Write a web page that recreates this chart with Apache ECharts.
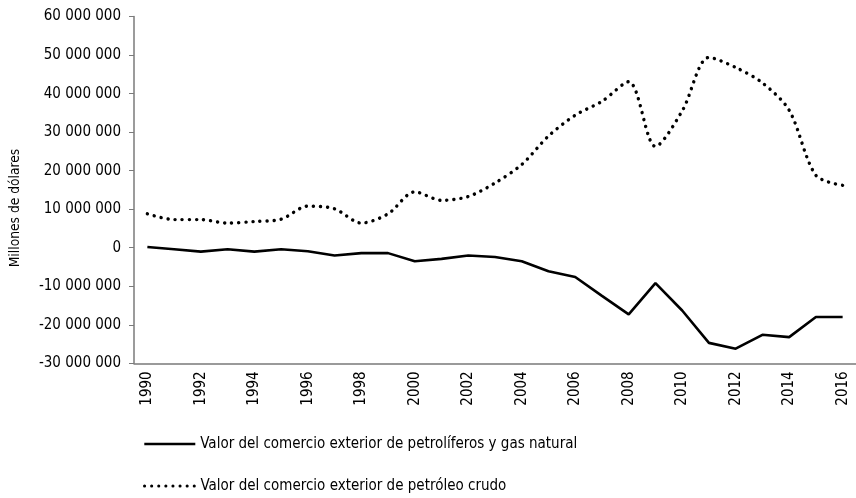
<!DOCTYPE html>
<html>
<head>
<meta charset="utf-8">
<script src="https://cdn.jsdelivr.net/npm/echarts@6/dist/echarts.min.js"></script>
<style>
  html, body { margin: 0; padding: 0; background: #fff; }
  #chart { width: 856px; height: 498px; }
</style>
</head>
<body>
<div id="chart"></div>
<script>
// años
const years = ['1990', '1991', '1992', '1993', '1994', '1995', '1996', '1997', '1998', '1999',
  '2000', '2001', '2002', '2003', '2004', '2005', '2006', '2007', '2008', '2009',
  '2010', '2011', '2012', '2013', '2014', '2015', '2016'];

// petrolíferos y gas natural (línea continua)
const petroliferos = [200000, -400000, -1000000, -400000, -1000000, -400000, -900000, -2000000, -1400000, -1400000,
  -3500000, -2900000, -2000000, -2400000, -3500000, -6100000, -7600000, -12500000, -17300000, -9200000,
  -16300000, -24700000, -26200000, -22600000, -23200000, -18000000, -18000000];

// petróleo crudo (línea punteada)
const crudo = [8800000, 7300000, 7300000, 6400000, 6800000, 7400000, 10800000, 10100000, 6400000, 8800000,
  14500000, 12300000, 13300000, 16800000, 21600000, 29000000, 34400000, 38000000, 43100000, 26300000,
  35500000, 49400000, 46800000, 42800000, 35700000, 18800000, 16200000];

const yName = 'Millones de dólares';
const nombres = ['Valor del comercio exterior de petrolíferos y gas natural',
  'Valor del comercio exterior de petróleo crudo'];

const font = '"DejaVu Sans Condensed", "Liberation Sans", sans-serif';

function conEspacios(v) {
  return String(v).replace(/\B(?=(\d{3})+(?!\d))/g, ' ');
}

const punteado = { color: '#000', width: 3.4, type: [0.1, 7], cap: 'round' };

function leyenda(nombre, top, estilo) {
  return {
    orient: 'vertical',
    left: 138,
    top: top,
    itemWidth: 51,
    itemHeight: 16,
    itemStyle: { opacity: 0 },
    lineStyle: estilo,
    textStyle: { fontSize: 15, lineHeight: 16, fontFamily: font, color: '#000' },
    data: [nombre]
  };
}

const chart = echarts.init(document.getElementById('chart'));
chart.setOption({
  animation: false,
  textStyle: { fontFamily: font, color: '#000' },
  grid: { left: 134, top: 16.6, width: 723, height: 346.7 },
  xAxis: {
    type: 'category',
    data: years,
    boundaryGap: true,
    axisLine: { onZero: false, lineStyle: { color: '#7a7a7a', width: 1.5 } },
    axisTick: { interval: 1, length: 5, lineStyle: { color: '#7a7a7a' } },
    axisLabel: { interval: 1, rotate: 90, margin: 8, fontSize: 15, color: '#000', fontFamily: font }
  },
  yAxis: {
    type: 'value',
    min: -30000000,
    max: 60000000,
    interval: 10000000,
    splitLine: { show: false },
    axisLine: { show: true, lineStyle: { color: '#7a7a7a', width: 1.5 } },
    axisTick: { show: true, length: 5, lineStyle: { color: '#7a7a7a' } },
    axisLabel: { margin: 13, fontSize: 15, color: '#000', fontFamily: font, formatter: conEspacios }
  },
  graphic: [{
    type: 'text',
    x: 15,
    y: 208,
    rotation: Math.PI / 2,
    style: {
      text: yName,
      fontSize: 13.7,
      fontFamily: font,
      fill: '#000',
      align: 'center',
      verticalAlign: 'middle'
    }
  }],
  legend: [
    leyenda(nombres[0], 431, { color: '#000', width: 2.6 }),
    leyenda(nombres[1], 473, { color: '#000', width: 3, type: [0.1, 7], cap: 'round' })
  ],
  series: [
    {
      name: nombres[0],
      type: 'line',
      data: petroliferos,
      symbol: 'none',
      color: '#000',
      lineStyle: { color: '#000', width: 2.6 }
    },
    {
      name: nombres[1],
      type: 'line',
      data: crudo,
      symbol: 'none',
      smooth: 0.3,
      color: '#000',
      lineStyle: punteado
    }
  ]
});
</script>
</body>
</html>
